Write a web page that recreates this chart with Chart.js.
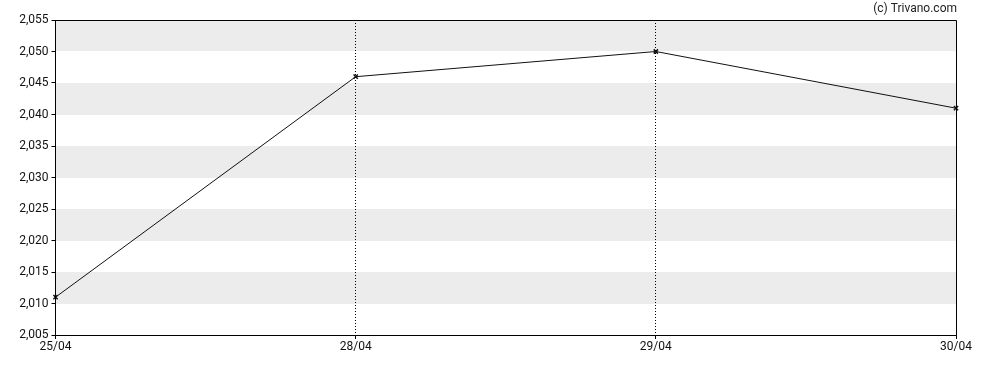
<!DOCTYPE html>
<html>
<head>
<meta charset="utf-8">
<script src="https://cdn.jsdelivr.net/npm/chart.js@4"></script>
<style>
  html, body { margin: 0; padding: 0; background: #fff; }
  #wrap { width: 988px; height: 370px; }
</style>
</head>
<body>
<div id="wrap"><canvas id="myChart" width="988" height="370"></canvas></div>
<script>
const dates = ['25/04', '28/04', '29/04', '30/04']
const prices = [2011, 2046, 2050, 2041]
const yMin = 2005
const yMax = 2055
const yStep = 5

const fmt = v => Math.floor(v / 1000) + ',' + String(v % 1000).padStart(3, '0')
const align = p => Math.round(p - 0.5) + 0.5

// alternating grey bands + frame + watermark
const bandsPlugin = {
  id: 'bands',
  beforeDraw: (chart) => {
    const { ctx, chartArea, scales: { y } } = chart
    ctx.save()
    ctx.fillStyle = '#ececec'
    for (let v = yMin + yStep; v < yMax; v += 2 * yStep) {
      const top = Math.round(y.getPixelForValue(v + yStep))
      const bot = Math.round(y.getPixelForValue(v))
      ctx.fillRect(Math.round(chartArea.left), top, Math.round(chartArea.right - chartArea.left), bot - top)
    }
    ctx.restore()
  },
  afterDraw: (chart) => {
    const { ctx, chartArea } = chart
    const l = align(chartArea.left)
    const r = align(chartArea.right)
    const t = align(chartArea.top)
    const b = align(chartArea.bottom)
    ctx.save()
    ctx.strokeStyle = '#000'
    ctx.lineWidth = 1
    ctx.beginPath()
    ctx.moveTo(l, t); ctx.lineTo(r, t); ctx.lineTo(r, b); ctx.lineTo(l, b); ctx.closePath()
    ctx.stroke()
    ctx.font = '12px Roboto'
    ctx.fillStyle = '#222'
    ctx.textAlign = 'right'
    ctx.textBaseline = 'middle'
    ctx.fillText('(c) Trivano.com', 957, 9)
    ctx.restore()
  }
}

const config = {
  type: 'line',
  data: {
    labels: dates,
    datasets: [{
      data: prices,
      borderColor: '#111',
      borderWidth: 1,
      tension: 0,
      pointStyle: 'crossRot',
      pointRadius: 3,
      pointBorderColor: '#111',
      pointBorderWidth: 1.5,
      fill: false
    }]
  },
  options: {
    responsive: false,
    animation: false,
    layout: { padding: { top: 20, right: 32, left: 0, bottom: 0 } },
    plugins: {
      legend: { display: false },
      tooltip: { enabled: false }
    },
    scales: {
      x: {
        type: 'category',
        offset: false,
        afterFit: (s) => { s.height = 35 },
        grid: {
          color: (c) => (c.index === 0 || c.index === dates.length - 1) ? 'rgba(0,0,0,0)' : '#000',
          tickLength: 4,
          tickColor: '#000',
          tickBorderDash: []
        },
        border: { display: false, dash: [1, 2] },
        ticks: {
          color: '#111',
          font: { family: 'Roboto', size: 12 },
          maxRotation: 0,
          padding: 1,
          autoSkip: false
        }
      },
      y: {
        min: yMin,
        max: yMax,
        afterFit: (s) => { s.width = 55.5 },
        grid: {
          drawOnChartArea: false,
          tickLength: 4,
          tickColor: '#000'
        },
        border: { display: false },
        ticks: {
          stepSize: yStep,
          color: '#111',
          font: { family: 'Roboto', size: 12 },
          padding: 3,
          callback: (v) => fmt(v)
        }
      }
    }
  },
  plugins: [bandsPlugin]
}

new Chart(document.getElementById('myChart').getContext('2d'), config)
</script>
</body>
</html>
